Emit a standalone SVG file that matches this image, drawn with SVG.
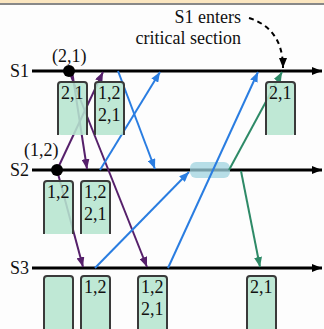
<svg xmlns="http://www.w3.org/2000/svg" width="324" height="329" viewBox="0 0 324 329">
<defs>
<style>
text{font-family:"Liberation Serif","Times New Roman",serif;font-size:18px;fill:#111}
.axis{stroke:#000;stroke-width:3;fill:none}
.pu{stroke:#56206b;stroke-width:2;fill:none}
.bl{stroke:#2a7de1;stroke-width:2;fill:none}
.gr{stroke:#2e8a67;stroke-width:2;fill:none}
.boxf{fill:#b6e5cf;fill-opacity:0.88;stroke:none}
.boxs{fill:none;stroke:#3a3a3a;stroke-width:2}
</style>
<marker id="ak" markerWidth="10" markerHeight="8" refX="10" refY="4" orient="auto" markerUnits="userSpaceOnUse"><path d="M0,0 L10,4 L0,8 Z" fill="#000"/></marker>
<marker id="ap" markerWidth="10" markerHeight="8" refX="10" refY="4" orient="auto" markerUnits="userSpaceOnUse"><path d="M0,0 L10,4 L0,8 Z" fill="#56206b"/></marker>
<marker id="ab" markerWidth="10" markerHeight="8" refX="10" refY="4" orient="auto" markerUnits="userSpaceOnUse"><path d="M0,0 L10,4 L0,8 Z" fill="#2a7de1"/></marker>
<marker id="ag" markerWidth="10" markerHeight="8" refX="10" refY="4" orient="auto" markerUnits="userSpaceOnUse"><path d="M0,0 L10,4 L0,8 Z" fill="#2e8a67"/></marker>
</defs>
<rect x="0" y="0" width="324" height="329" fill="#fdfdfd"/>
<rect x="0" y="0" width="324" height="3" fill="#fbe6c0"/>
<rect x="0" y="3" width="324" height="2" fill="#888"/>

<g id="processes">
<g id="S1"><text x="10" y="77">S1</text><line class="axis" x1="32" y1="71" x2="322" y2="71" marker-end="url(#ak)"/></g>
<g id="S2"><text x="10" y="176">S2</text><line class="axis" x1="32" y1="170" x2="322" y2="170" marker-end="url(#ak)"/></g>
<g id="S3"><text x="10" y="274">S3</text><line class="axis" x1="32" y1="268" x2="322" y2="268" marker-end="url(#ak)"/></g>
</g>

<g id="highlight"><rect x="190" y="162" width="40" height="16" rx="6" fill="#9fd3df" fill-opacity="0.75"/></g>

<g id="connectors">
<line class="pu" x1="72" y1="71" x2="87" y2="169" marker-end="url(#ap)"/>
<line class="pu" x1="69" y1="71" x2="147" y2="267" marker-end="url(#ap)"/>
<line class="pu" x1="57" y1="170" x2="103" y2="72" marker-end="url(#ap)"/>
<line class="pu" x1="57" y1="170" x2="83" y2="267" marker-end="url(#ap)"/>
<line class="bl" x1="118" y1="71" x2="155" y2="169" marker-end="url(#ab)"/>
<line class="bl" x1="100" y1="170" x2="160" y2="72" marker-end="url(#ab)"/>
<line class="bl" x1="95" y1="268" x2="189" y2="172" marker-end="url(#ab)"/>
<line class="bl" x1="168" y1="268" x2="258" y2="72" marker-end="url(#ab)"/>
<line class="gr" x1="229" y1="170" x2="282" y2="72" marker-end="url(#ag)"/>
<line class="gr" x1="241" y1="171" x2="260" y2="267" marker-end="url(#ag)"/>
<path d="M249,18 C268,24 283,38 283,68" fill="none" stroke="#000" stroke-width="2" stroke-dasharray="5,4" marker-end="url(#ak)"/>
</g>

<g id="dots">
<circle cx="69" cy="71" r="6" fill="#000"/><text x="52" y="62">(2,1)</text>
<circle cx="57" cy="170" r="6" fill="#000"/><text x="24" y="156">(1,2)</text>
</g>

<g id="annotation"><text x="241" y="23" text-anchor="end">S1 enters</text><text x="241" y="44" text-anchor="end">critical section</text></g>

<g id="box-s1-1"><rect class="boxf" x="58" y="82" width="29" height="53" rx="3"/><path class="boxs" d="M58,135 V85 Q58,82 61,82 H84 Q87,82 87,85 V135"/><text x="61" y="99">2,1</text></g>
<g id="box-s1-2"><rect class="boxf" x="95" y="82" width="29" height="53" rx="3"/><path class="boxs" d="M95,135 V85 Q95,82 98,82 H121 Q124,82 124,85 V135"/><text x="98" y="99">1,2</text><text x="98" y="121">2,1</text></g>
<g id="box-s1-3"><rect class="boxf" x="266" y="82" width="29" height="53" rx="3"/><path class="boxs" d="M266,135 V85 Q266,82 269,82 H292 Q295,82 295,85 V135"/><text x="269" y="99">2,1</text></g>

<g id="box-s2-1"><rect class="boxf" x="44" y="181" width="29" height="53" rx="3"/><path class="boxs" d="M44,234 V184 Q44,181 47,181 H70 Q73,181 73,184 V234"/><text x="47" y="198">1,2</text></g>
<g id="box-s2-2"><rect class="boxf" x="81" y="181" width="29" height="53" rx="3"/><path class="boxs" d="M81,234 V184 Q81,181 84,181 H107 Q110,181 110,184 V234"/><text x="84" y="198">1,2</text><text x="84" y="220">2,1</text></g>

<g id="box-s3-1"><rect class="boxf" x="44" y="276" width="29" height="55" rx="3"/><path class="boxs" d="M44,331 V279 Q44,276 47,276 H70 Q73,276 73,279 V331"/></g>
<g id="box-s3-2"><rect class="boxf" x="81" y="276" width="29" height="55" rx="3"/><path class="boxs" d="M81,331 V279 Q81,276 84,276 H107 Q110,276 110,279 V331"/><text x="84" y="293">1,2</text></g>
<g id="box-s3-3"><rect class="boxf" x="138" y="276" width="29" height="55" rx="3"/><path class="boxs" d="M138,331 V279 Q138,276 141,276 H164 Q167,276 167,279 V331"/><text x="141" y="293">1,2</text><text x="141" y="315">2,1</text></g>
<g id="box-s3-4"><rect class="boxf" x="247" y="276" width="29" height="55" rx="3"/><path class="boxs" d="M247,331 V279 Q247,276 250,276 H273 Q276,276 276,279 V331"/><text x="250" y="293">2,1</text></g>
</svg>
